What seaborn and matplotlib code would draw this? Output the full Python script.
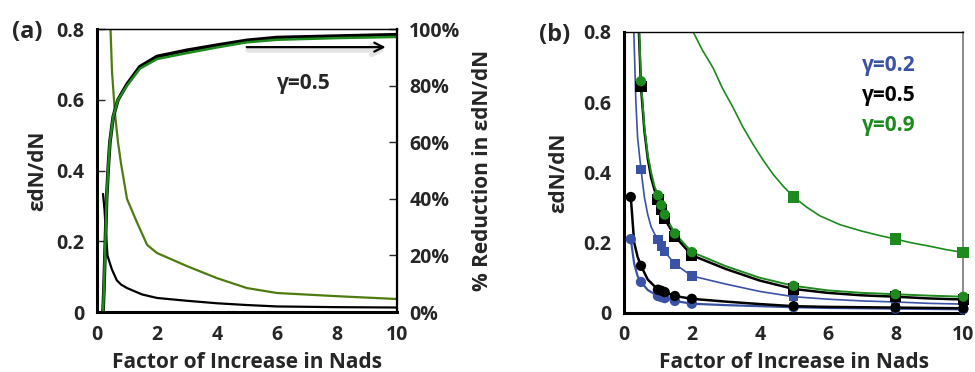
import matplotlib
matplotlib.use("Agg")
import matplotlib.pyplot as plt
import seaborn as sns
import pandas as pd
from matplotlib.ticker import FuncFormatter

sns.set_style("white")
plt.rcParams['font.family'] = ['Open Sans', 'DejaVu Sans']
plt.rcParams['font.weight'] = 'bold'

blue = '#3a52a6'
green = '#1c8a1c'
olive = '#4e7c10'

# ---- panel (a) data (gamma = 0.5) ----
a_dec_x = [0.2, 0.25, 0.3, 0.35, 0.43, 0.5, 0.66, 0.8, 1.0, 1.5, 2, 3, 4, 5, 6, 8, 10]
a_dec_black = [0.334, 0.29, 0.22, 0.16, 0.138, 0.12, 0.09, 0.078, 0.068, 0.05, 0.04, 0.032, 0.025, 0.02, 0.016, 0.014, 0.013]

a_olive_x = [0.45, 0.5, 0.6, 0.7, 0.8, 1.0, 1.3, 1.67, 2, 3, 4, 5, 6, 8, 10]
a_olive = [0.8, 0.68, 0.56, 0.48, 0.42, 0.32, 0.26, 0.19, 0.167, 0.13, 0.096, 0.068, 0.054, 0.045, 0.037]

a_pct_x = [0.2, 0.23, 0.27, 0.32, 0.38, 0.43, 0.54, 0.7, 1.0, 1.43, 2, 3, 4, 5, 6, 8, 10]
a_pct_green = [0, 8, 22, 40, 52, 60, 69, 75, 80, 86, 89.4, 91.5, 93.5, 95.3, 96.2, 96.8, 97.2]
a_pct_black = [0, 8, 22, 40, 52, 60, 69, 75, 80.5, 86.7, 90.3, 92.5, 94.3, 96.0, 97.0, 97.5, 98.0]

# ---- panel (b) markers ----
b_x = [0.5, 1.0, 1.1, 1.2, 1.5, 2, 5, 8, 10]
b_x_circ = [0.2, 0.5, 1.0, 1.1, 1.2, 1.5, 2, 5, 8, 10]
g9_circ = [0.66, 0.335, 0.307, 0.28, 0.226, 0.173, 0.077, 0.053, 0.046]
g5_sq = [0.645, 0.323, 0.295, 0.268, 0.218, 0.164, 0.068, 0.046, 0.038]
g2_sq = [0.409, 0.209, 0.19, 0.174, 0.139, 0.105, 0.046, 0.031, 0.025]
g5_circ = [0.33, 0.134, 0.066, 0.063, 0.059, 0.048, 0.04, 0.019, 0.015, 0.013]
g2_circ = [0.21, 0.088, 0.048, 0.045, 0.042, 0.034, 0.026, 0.016, 0.012, 0.01]
g9_sq_x = [5, 8, 10]
g9_sq = [0.33, 0.21, 0.172]

# ---- panel (b) curves ----
c_g9_circ_x = [0.45, 0.5, 0.6, 0.7, 0.8, 0.9, 1.0, 1.1, 1.2, 1.5, 2, 3, 4, 5, 6, 7, 8, 9, 10]
c_g9_circ = [0.8, 0.66, 0.53, 0.45, 0.4, 0.36, 0.335, 0.307, 0.28, 0.226, 0.173, 0.133, 0.1, 0.077, 0.064, 0.057, 0.053, 0.049, 0.046]
c_g5_sq_x = [0.44, 0.5, 0.6, 0.7, 0.8, 0.9, 1.0, 1.1, 1.2, 1.5, 2, 3, 4, 5, 6, 7, 8, 9, 10]
c_g5_sq = [0.8, 0.645, 0.52, 0.44, 0.385, 0.35, 0.323, 0.295, 0.268, 0.218, 0.164, 0.125, 0.092, 0.068, 0.057, 0.05, 0.046, 0.041, 0.038]
c_g2_sq_x = [0.29, 0.35, 0.4, 0.5, 0.6, 0.7, 0.8, 0.9, 1.0, 1.1, 1.2, 1.5, 2, 3, 4, 5, 6, 7, 8, 9, 10]
c_g2_sq = [0.8, 0.6, 0.5, 0.409, 0.33, 0.28, 0.245, 0.225, 0.209, 0.19, 0.174, 0.139, 0.105, 0.082, 0.061, 0.046, 0.039, 0.034, 0.031, 0.027, 0.025]
c_g5_circ_x = [0.2, 0.3, 0.4, 0.5, 0.7, 1.0, 1.1, 1.2, 1.5, 2, 3, 4, 5, 6, 8, 10]
c_g5_circ = [0.33, 0.2, 0.16, 0.134, 0.095, 0.066, 0.063, 0.059, 0.048, 0.04, 0.032, 0.025, 0.019, 0.017, 0.015, 0.013]
c_g2_circ_x = [0.2, 0.3, 0.4, 0.5, 0.7, 1.0, 1.1, 1.2, 1.5, 2, 3, 4, 5, 6, 8, 10]
c_g2_circ = [0.21, 0.14, 0.105, 0.088, 0.065, 0.048, 0.045, 0.042, 0.034, 0.026, 0.022, 0.019, 0.016, 0.014, 0.012, 0.01]
c_g9_sq_x = [2.04, 2.3, 2.63, 2.9, 3.22, 3.5, 3.81, 4.1, 4.4, 4.7, 5, 5.4, 5.78, 6.37, 7, 7.5, 8, 8.5, 9, 9.5, 10]
c_g9_sq = [0.8, 0.75, 0.697, 0.64, 0.584, 0.53, 0.479, 0.435, 0.394, 0.36, 0.33, 0.3, 0.276, 0.251, 0.233, 0.221, 0.21, 0.199, 0.19, 0.18, 0.172]

fig = plt.figure(figsize=(9.75, 3.72), dpi=100)
axa = fig.add_axes([0.0995, 0.161, 0.3075, 0.761])
axb = fig.add_axes([0.640, 0.159, 0.348, 0.755])

tick_kw = dict(direction='in', length=6, width=1, labelsize=14, pad=9)

# ---- panel (a) ----
sns.lineplot(x=a_dec_x, y=a_dec_black, ax=axa, color='black', lw=1.6)
sns.lineplot(x=a_olive_x, y=a_olive, ax=axa, color=olive, lw=1.6)
axa.set_xlim(0, 10)
axa.set_ylim(0, 0.8)
axa.set_xticks([0, 2, 4, 6, 8, 10])
axa.set_yticks([0, 0.2, 0.4, 0.6, 0.8])
axa.yaxis.set_major_formatter(FuncFormatter(lambda v, p: '0' if v == 0 else f'{v:.1f}'))
axa.tick_params(**tick_kw)
axa.set_xlabel('Factor of Increase in Nads', fontsize=15, fontweight='bold', labelpad=5)
axa.set_ylabel('εdN/dN', fontsize=15, fontweight='bold', labelpad=6)

axr = axa.twinx()
sns.lineplot(x=a_pct_x, y=a_pct_black, ax=axr, color='black', lw=2.6)
sns.lineplot(x=a_pct_x, y=a_pct_green, ax=axr, color=green, lw=1.8)
axr.set_ylim(0, 100)
axr.set_yticks([0, 20, 40, 60, 80, 100])
axr.yaxis.set_major_formatter(FuncFormatter(lambda v, p: f'{v:.0f}%'))
axr.tick_params(**tick_kw)
axr.set_ylabel('% Reduction in εdN/dN', fontsize=15, fontweight='bold', labelpad=8)
axr.annotate('', xy=(9.75, 92.6), xytext=(4.95, 92.6),
             arrowprops=dict(arrowstyle='->', color='#e4e4e4', lw=4, mutation_scale=16))
axr.annotate('', xy=(9.72, 93.6), xytext=(4.9, 93.6),
             arrowprops=dict(arrowstyle='->', color='black', lw=1.6, mutation_scale=16))
axa.text(6.9, 0.645, 'γ=0.5', fontsize=15, fontweight='bold', ha='center', va='center')

for ax in (axa, axr):
    for s in ax.spines.values():
        s.set_color('black')
axr.spines['bottom'].set_linewidth(2.2)
axr.spines['left'].set_linewidth(2.2)
axr.spines['right'].set_linewidth(1.6)
axr.spines['top'].set_linewidth(1.0)

# ---- panel (b) ----
curves = [
    (c_g9_sq_x, c_g9_sq, green, 1.2),
    (c_g2_sq_x, c_g2_sq, blue, 1.2),
    (c_g2_circ_x, c_g2_circ, blue, 1.6),
    (c_g5_circ_x, c_g5_circ, 'black', 1.8),
    (c_g5_sq_x, c_g5_sq, 'black', 1.8),
    (c_g9_circ_x, c_g9_circ, green, 1.4),
]
for cx, cy, col, lw in curves:
    sns.lineplot(x=cx, y=cy, ax=axb, color=col, lw=lw)

marks = [
    (g9_sq_x, g9_sq, green, 's', 70),
    (b_x, g2_sq, blue, 's', 45),
    (b_x_circ, g2_circ, blue, 'o', 55),
    (b_x_circ, g5_circ, 'black', 'o', 55),
    (b_x, g5_sq, 'black', 's', 65),
    (b_x, g9_circ, green, 'o', 55),
]
for mx, my, col, m, sz in marks:
    sns.scatterplot(x=mx, y=my, ax=axb, color=col, marker=m, s=sz, edgecolor='none', zorder=5)
for coll in axb.collections:
    coll.set_clip_on(False)

axb.set_xlim(0, 10)
axb.set_ylim(0, 0.8)
axb.set_xticks([0, 2, 4, 6, 8, 10])
axb.set_yticks([0, 0.2, 0.4, 0.6, 0.8])
axb.yaxis.set_major_formatter(FuncFormatter(lambda v, p: '0' if v == 0 else f'{v:.1f}'))
axb.tick_params(**tick_kw)
axb.set_xlabel('Factor of Increase in Nads', fontsize=15, fontweight='bold', labelpad=5)
axb.set_ylabel('εdN/dN', fontsize=15, fontweight='bold', labelpad=10)
axb.spines['bottom'].set_linewidth(2.2)
axb.spines['left'].set_linewidth(2.2)
axb.spines['bottom'].set_color('black')
axb.spines['left'].set_color('black')
axb.spines['top'].set_linewidth(1.0)
axb.spines['top'].set_color('black')
axb.spines['right'].set_linewidth(1.2)
axb.spines['right'].set_color('#777777')

axb.text(7.0, 0.705, 'γ=0.2', color=blue, fontsize=15, fontweight='bold', va='center')
axb.text(7.0, 0.62, 'γ=0.5', color='black', fontsize=15, fontweight='bold', va='center')
axb.text(7.0, 0.535, 'γ=0.9', color=green, fontsize=15, fontweight='bold', va='center')

fig.text(0.012, 0.915, '(a)', fontsize=17, fontweight='bold', va='center')
fig.text(0.553, 0.905, '(b)', fontsize=17, fontweight='bold', va='center')

fig.savefig('out.png', dpi=100)
